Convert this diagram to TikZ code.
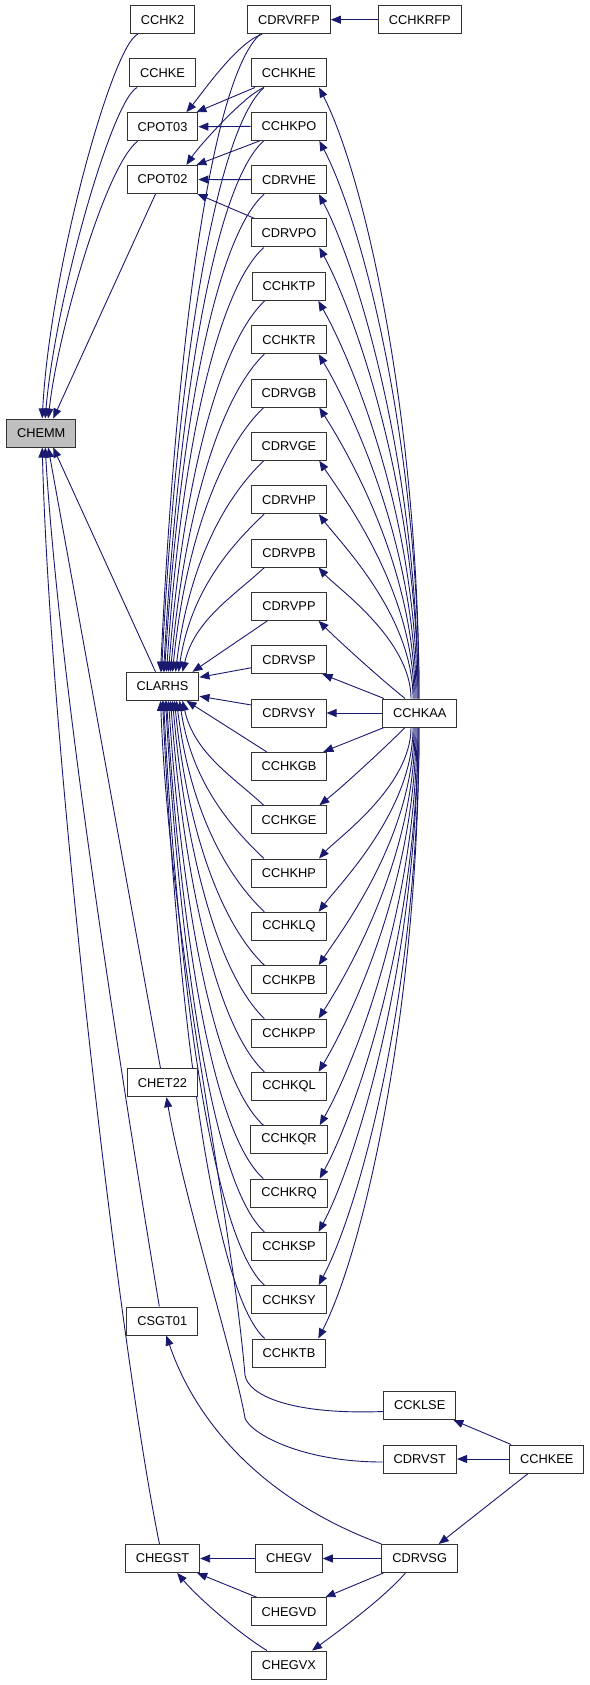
\documentclass[tikz,border=0pt]{standalone}
\usepackage{fontspec}
\setmainfont{Liberation Sans}
\usetikzlibrary{arrows.meta}
\definecolor{eb}{HTML}{191970}
\pgfdeclarelayer{bg}
\pgfsetlayers{bg,main}
\tikzset{
 box/.style={draw=black!80, line width=1pt, fill=white, minimum height=28pt, inner xsep=10.5pt, inner ysep=0pt, font=\fontsize{12.8pt}{14pt}\selectfont},
 hl/.style={fill=black!25},
 arr/.style={draw=eb, line width=0.9pt, {Triangle[length=10pt,width=8pt]}-},
}
\newcommand\lup[4]{\draw[arr] ([xshift=#2pt]CLARHS.north west) .. controls +(#3) and +(#4) .. ([xshift=13pt]#1.south west);}
\newcommand\ldn[4]{\draw[arr] ([xshift=#2pt]CLARHS.south west) .. controls +(#3) and +(#4) .. ([xshift=13pt]#1.north west);}
\newcommand\aup[4]{\draw[arr] ([xshift=-8pt]#1.south east) .. controls +(#3) and +(#4) .. ([xshift=#2pt]CCHKAA.north west);}
\newcommand\adn[4]{\draw[arr] ([xshift=-8pt]#1.north east) .. controls +(#3) and +(#4) .. ([xshift=#2pt]CCHKAA.south west);}
\begin{document}
\begin{tikzpicture}[x=1pt,y=-1pt]
\useasboundingbox (0,0) rectangle (589,1685);
% column 0
\node[box,hl] (CHEMM) at (41.2,433) {CHEMM};
% column A
\node[box] (CCHK2) at (162.5,19.7) {CCHK2};
\node[box] (CCHKE) at (162.5,73) {CCHKE};
\node[box] (CPOT03) at (162.5,126.7) {CPOT03};
\node[box] (CPOT02) at (162.5,179.5) {CPOT02};
\node[box] (CLARHS) at (162.5,686.3) {CLARHS};
\node[box] (CHET22) at (162.5,1082.7) {CHET22};
\node[box] (CSGT01) at (162.3,1321) {CSGT01};
\node[box] (CHEGST) at (162.5,1558.5) {CHEGST};
% column B
\node[box] (CDRVRFP) at (289,19.7) {CDRVRFP};
\node[box] (CCHKHE) at (289,73.0) {CCHKHE};
\node[box] (CCHKPO) at (289,126.4) {CCHKPO};
\node[box] (CDRVHE) at (289,179.7) {CDRVHE};
\node[box] (CDRVPO) at (289,233.0) {CDRVPO};
\node[box] (CCHKTP) at (289,286.4) {CCHKTP};
\node[box] (CCHKTR) at (289,339.7) {CCHKTR};
\node[box] (CDRVGB) at (289,393.0) {CDRVGB};
\node[box] (CDRVGE) at (289,446.3) {CDRVGE};
\node[box] (CDRVHP) at (289,499.7) {CDRVHP};
\node[box] (CDRVPB) at (289,553.0) {CDRVPB};
\node[box] (CDRVPP) at (289,606.3) {CDRVPP};
\node[box] (CDRVSP) at (289,659.7) {CDRVSP};
\node[box] (CDRVSY) at (289,713.0) {CDRVSY};
\node[box] (CCHKGB) at (289,766.3) {CCHKGB};
\node[box] (CCHKGE) at (289,819.7) {CCHKGE};
\node[box] (CCHKHP) at (289,873.0) {CCHKHP};
\node[box] (CCHKLQ) at (289,926.3) {CCHKLQ};
\node[box] (CCHKPB) at (289,979.7) {CCHKPB};
\node[box] (CCHKPP) at (289,1033.0) {CCHKPP};
\node[box] (CCHKQL) at (289,1086.3) {CCHKQL};
\node[box] (CCHKQR) at (289,1139.6) {CCHKQR};
\node[box] (CCHKRQ) at (289,1193.0) {CCHKRQ};
\node[box] (CCHKSP) at (289,1246.3) {CCHKSP};
\node[box] (CCHKSY) at (289,1299.6) {CCHKSY};
\node[box] (CCHKTB) at (289,1353.0) {CCHKTB};
\node[box] (CHEGV) at (289,1558.5) {CHEGV};
\node[box] (CHEGVD) at (289,1611.7) {CHEGVD};
\node[box] (CHEGVX) at (289,1665) {CHEGVX};
% column C
\node[box] (CCHKRFP) at (419.8,19.7) {CCHKRFP};
\node[box] (CCHKAA) at (419.7,713) {CCHKAA};
\node[box] (CCKLSE) at (419.7,1405.5) {CCKLSE};
\node[box] (CDRVST) at (419.8,1459) {CDRVST};
\node[box] (CDRVSG) at (419.7,1558.5) {CDRVSG};
% column D
\node[box] (CCHKEE) at (546.8,1459) {CCHKEE};
\coordinate (bendST) at (245,1418);
\coordinate (bendKL) at (245,1375);

\begin{pgfonlayer}{bg}
% into CHEMM
\draw[arr] ([xshift=1pt]CHEMM.north) .. controls +(8,-150) and +(-25,10) .. ([xshift=8pt]CCHK2.south west);
\draw[arr] ([xshift=4pt]CHEMM.north) .. controls +(10,-119) and +(-25,12) .. ([xshift=8pt]CCHKE.south west);
\draw[arr] ([xshift=7pt]CHEMM.north) .. controls +(10,-89) and +(-32,25) .. ([xshift=11pt]CPOT03.south west);
\draw[arr] ([xshift=12pt]CHEMM.north) -- ([xshift=-7pt]CPOT02.south);
\draw[arr] ([xshift=12pt]CHEMM.south) -- ([xshift=-7pt]CLARHS.north);
\draw[arr] ([xshift=7pt]CHEMM.south) -- ([xshift=-2pt]CHET22.north);
\draw[arr] ([xshift=4pt]CHEMM.south) .. controls +(15,253) and +(-29,-177) .. ([xshift=-3pt]CSGT01.north);
\draw[arr] ([xshift=1pt]CHEMM.south) .. controls +(8,303) and +(-40,-195) .. ([xshift=-3pt]CHEGST.north);
% CPOT03 / CPOT02
\draw[arr] ([xshift=-12pt]CPOT03.north east) .. controls +(15,-18) and +(-25,8) .. ([xshift=15pt]CDRVRFP.south west);
\draw[arr] ([xshift=-2pt]CPOT03.north east) -- ([xshift=4pt]CCHKHE.south west);
\draw[arr] (CPOT03.east) -- (CCHKPO.west);
\draw[arr] ([xshift=-12pt]CPOT02.north east) .. controls +(12,-18) and +(-20,8) .. ([xshift=13pt]CCHKHE.south west);
\draw[arr] ([xshift=-2pt]CPOT02.north east) -- ([xshift=9pt]CCHKPO.south west);
\draw[arr] (CPOT02.east) -- (CDRVHE.west);
\draw[arr] ([xshift=-1pt]CPOT02.south east) -- ([xshift=4pt]CDRVPO.north west);
\draw[arr] (CDRVRFP.east) -- (CCHKRFP.west);
% CLARHS upper fan
\lup{CDRVRFP}{35}{15,-319}{-50,45}
\lup{CCHKHE}{36}{15,-292}{-50,45}
\lup{CCHKPO}{38}{15,-266}{-50,45}
\lup{CDRVHE}{39}{15,-239}{-50,45}
\lup{CDRVPO}{41}{14,-212}{-48,44}
\lup{CCHKTP}{43}{14,-186}{-46,43}
\lup{CCHKTR}{45}{14,-159}{-44,42}
\lup{CDRVGB}{47}{13,-132}{-42,40}
\lup{CDRVGE}{50}{13,-106}{-40,38}
\lup{CDRVHP}{53}{12,-79}{-36,34}
\lup{CDRVPB}{57}{12,-52}{-30,28}
\draw[arr] ([xshift=-7pt]CLARHS.north east) -- ([xshift=16pt]CDRVPP.south west);
\draw[arr] ([yshift=9pt]CLARHS.east) -- ([yshift=-8pt]CDRVSP.west);
\draw[arr] ([yshift=-10pt]CLARHS.east) -- ([yshift=8pt]CDRVSY.west);
\draw[arr] ([xshift=-13pt]CLARHS.south east) -- ([xshift=16pt]CCHKGB.north west);
% CLARHS lower fan
\ldn{CCHKGE}{57}{12,53}{-30,-28}
\ldn{CCHKHP}{54}{12,79}{-36,-34}
\ldn{CCHKLQ}{51}{13,106}{-40,-38}
\ldn{CCHKPB}{49}{13,133}{-42,-40}
\ldn{CCHKPP}{47}{14,160}{-44,-42}
\ldn{CCHKQL}{45}{14,186}{-46,-43}
\ldn{CCHKQR}{43}{14,213}{-48,-44}
\ldn{CCHKRQ}{41}{15,240}{-50,-45}
\ldn{CCHKSP}{40}{15,266}{-50,-45}
\ldn{CCHKSY}{38}{15,293}{-50,-45}
\ldn{CCHKTB}{37}{15,320}{-50,-45}
\draw[arr] ([xshift=35pt]CLARHS.south west) .. controls +(10,250) and +(-15,-175) .. (bendKL) .. controls +(3,20) and +(-93,3.5) .. ([yshift=-6pt]CCKLSE.west);
% CCHKAA fan
\aup{CCHKHE}{37}{47,92}{0,-275}
\aup{CCHKPO}{37}{44,84}{0,-252}
\aup{CDRVHE}{36}{40,76}{0,-227}
\aup{CDRVPO}{36}{37,68}{0,-203}
\aup{CCHKTP}{35}{34,60}{0,-180}
\aup{CCHKTR}{34}{31,52}{0,-155}
\aup{CDRVGB}{33}{28,44}{0,-131}
\aup{CDRVGE}{32}{24,36}{0,-108}
\aup{CDRVHP}{31}{21,28}{0,-83}
\aup{CDRVPB}{29}{18,20}{0,-59}
\aup{CDRVPP}{23}{20,20}{-25,-20}
\draw[arr] ([xshift=-4pt]CDRVSP.south east) -- ([xshift=2pt]CCHKAA.north west);
\draw[arr] (CDRVSY.east) -- (CCHKAA.west);
\draw[arr] ([xshift=-4pt]CCHKGB.north east) -- ([xshift=2pt]CCHKAA.south west);
\adn{CCHKGE}{23}{25,-20}{-20,20}
\adn{CCHKHP}{29}{18,-20}{0,59}
\adn{CCHKLQ}{31}{21,-28}{0,83}
\adn{CCHKPB}{32}{24,-36}{0,108}
\adn{CCHKPP}{33}{28,-44}{0,131}
\adn{CCHKQL}{34}{31,-52}{0,155}
\adn{CCHKQR}{35}{34,-60}{0,180}
\adn{CCHKRQ}{36}{37,-68}{0,203}
\adn{CCHKSP}{36}{40,-76}{0,227}
\adn{CCHKSY}{37}{44,-84}{0,252}
\adn{CCHKTB}{37}{47,-92}{0,275}
% lower group
\draw[arr] ([xshift=4pt]CHET22.south) .. controls +(18,103) and +(-10,-58) .. (bendST) .. controls +(5,15) and +(-82,0) .. ([yshift=-3pt]CDRVST.west);
\draw[arr] ([xshift=4pt]CSGT01.south) .. controls +(29,85) and +(-121,-45) .. (CDRVSG.north west);
\draw[arr] (CHEGST.east) -- (CHEGV.west);
\draw[arr] ([xshift=-3pt]CHEGST.south east) -- ([xshift=6pt]CHEGVD.north west);
\draw[arr] ([xshift=-23pt]CHEGST.south east) .. controls +(23,27) and +(-25,-15) .. ([xshift=16pt]CHEGVX.north west);
\draw[arr] (CHEGV.east) -- (CDRVSG.west);
\draw[arr] ([xshift=-2pt]CHEGVD.north east) -- ([xshift=2pt]CDRVSG.south west);
\draw[arr] ([xshift=-15pt]CHEGVX.north east) .. controls +(32,-23) and +(-20,23) .. ([xshift=24pt]CDRVSG.south west);
\draw[arr] ([xshift=19pt]CDRVSG.north) -- ([xshift=19pt]CCHKEE.south west);
\draw[arr] (CDRVST.east) -- (CCHKEE.west);
\draw[arr] ([xshift=-3pt]CCKLSE.south east) -- ([xshift=2pt]CCHKEE.north west);
\end{pgfonlayer}
\end{tikzpicture}
\end{document}
